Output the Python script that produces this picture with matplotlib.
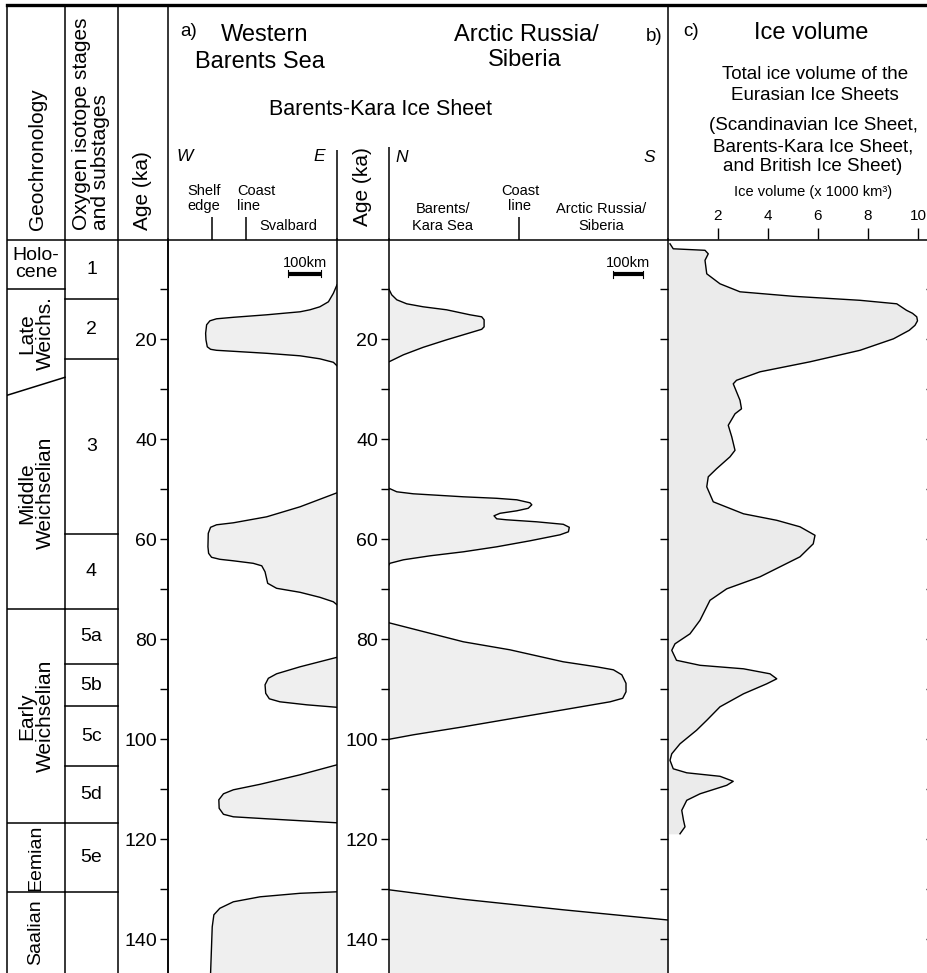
import numpy as np
import matplotlib.pyplot as plt
from matplotlib.ticker import FixedLocator, FixedFormatter

plt.rcParams['font.family'] = ['Liberation Sans', 'DejaVu Sans']

W, H = 928, 973
AGE0_PX = 239.3        # pixel row of 0 ka
PX_PER_KA = 5.0
AGE_MAX = (H - AGE0_PX) / PX_PER_KA

# ---- stratigraphy (ka) ----
geo_names = ['Holo-\ncene', 'Late\nWeichs.', 'Middle\nWeichselian',
             'Early\nWeichselian', 'Eemian', 'Saalian']
geo_base_left = [10, 31.2, 74, 116.8, 130.6]    # boundaries at left edge of column
geo_base_right = [10, 27.6, 74, 116.8, 130.6]   # boundaries at right edge of column
mis_names = ['1', '2', '3', '4', '5a', '5b', '5c', '5d', '5e', '']
mis_bounds = [0, 12, 24, 59, 74, 85, 93.4, 105.4, 116.8, 130.6]

# ---- a) Western Barents Sea: ice margin, km west of the eastern edge ----
a_age = [
    [9.1, 10.8, 12.5, 13.5, 14.1, 14.5, 14.8, 15.1, 15.6, 15.9, 16.3, 17.1, 18.8, 20.1,
     21.5, 22.0, 22.2, 22.4, 22.8, 23.3, 23.9, 24.6, 25.3],
    [50.7, 53.5, 55.5, 56.7, 57.1, 57.6, 58.8, 61.5, 62.8, 63.6, 64.0, 64.3, 64.8, 65.3,
     66.5, 68.8, 69.8, 70.6, 71.6, 72.5, 73.1],
    [83.6, 85.5, 86.9, 87.8, 89.1, 90.8, 91.9, 92.5, 93.1, 93.6],
    [105.1, 107.1, 109.0, 110.1, 110.9, 112.1, 113.8, 115.0, 115.5, 115.9, 116.7],
    [130.5, 130.8, 131.5, 132.5, 133.8, 135.1, 137.5, 146.8],
]
a_km = [
    [0, 11, 26, 52, 82, 112, 163, 213, 314, 365, 385, 395, 398, 397, 393, 383, 365, 314,
     213, 112, 52, 11, 0],
    [0, 112, 213, 314, 365, 383, 390, 391, 389, 380, 355, 314, 254, 228, 218, 210, 183,
     112, 52, 11, 0],
    [0, 112, 183, 208, 218, 216, 205, 173, 92, 0],
    [0, 112, 233, 314, 344, 358, 357, 344, 314, 213, 0],
    [0, 112, 233, 314, 355, 373, 378, 383],
]

# ---- b) Arctic Russia/Siberia: ice margin, km south of the northern edge ----
b_age = [
    [10.0, 11.1, 12.1, 12.9, 13.5, 14.1, 15.1, 15.5, 16.1, 17.5, 18.0, 18.7, 20.1, 21.6,
     23.1, 24.5],
    [49.8, 50.5, 50.9, 51.5, 51.8, 52.1, 52.7, 53.1, 53.8, 54.3, 54.8, 55.3, 55.9, 56.1,
     56.5, 57.0, 57.6, 58.5, 59.1, 60.3, 61.5, 62.5, 63.3, 64.1, 64.8, 65.1],
    [76.7, 78.8, 80.5, 82.1, 84.5, 85.5, 86.1, 87.1, 88.8, 90.5, 91.8, 92.5, 94.1, 95.8,
     97.5, 99.1, 100.0],
    [130.1, 132.0, 134.1, 136.2, 146.8],
]
b_km = [
    [0, 9, 26, 59, 114, 192, 270, 309, 317, 317, 309, 270, 192, 114, 48, 0],
    [0, 26, 81, 248, 359, 426, 470, 476, 464, 426, 370, 350, 359, 392, 492, 581, 601, 598,
     570, 470, 359, 248, 137, 48, 3, 0],
    [0, 137, 248, 403, 581, 692, 748, 776, 790, 790, 779, 737, 581, 414, 248, 81, 0],
    [0, 248, 581, 940, 940],
]

# ---- c) total Eurasian ice volume (x1000 km3) ----
c_age = [0.9, 1.9, 2.2, 2.9, 4.2, 6.9, 8.9, 10.5, 11.4, 12.2, 12.9, 14.2, 14.8, 15.5,
         16.3, 17.2, 18.2, 19.9, 22.2, 24.5, 26.5, 28.2, 28.9, 32.2, 33.9, 34.9, 37.2,
         39.5, 42.2, 43.5, 45.9, 47.5, 49.5, 52.5, 54.9, 56.2, 57.5, 59.2, 60.9, 63.5,
         67.5, 69.9, 72.2, 76.2, 78.9, 80.9, 82.2, 84.2, 85.2, 85.9, 86.9, 87.9, 88.9,
         90.9, 93.5, 96.2, 98.2, 100.9, 102.9, 104.2, 105.9, 106.7, 107.4, 108.4, 109.2,
         110.9, 112.2, 114.2, 116.2, 117.5, 118.9]
c_vol = [0.08, 0.21, 1.48, 1.61, 1.48, 1.55, 2.08, 2.88, 5.01, 7.68, 9.15, 9.54, 9.78,
         9.95, 9.98, 9.88, 9.65, 9.02, 7.68, 5.68, 3.68, 2.74, 2.61, 2.88, 2.94, 2.68,
         2.41, 2.55, 2.68, 2.48, 1.94, 1.61, 1.55, 1.81, 3.02, 4.35, 5.28, 5.88, 5.81,
         5.28, 3.68, 2.35, 1.68, 1.28, 0.88, 0.28, 0.15, 0.34, 1.28, 3.02, 4.08, 4.35,
         3.95, 3.02, 2.08, 1.55, 1.14, 0.48, 0.15, 0.08, 0.21, 0.75, 2.08, 2.61, 2.35,
         1.28, 0.75, 0.55, 0.62, 0.68, 0.48]
c_ticks = [2, 4, 6, 8, 10]

age_ticks = list(range(10, 150, 10))
age_labels = [str(t) if t % 20 == 0 else '' for t in age_ticks]

FILL = '#efefef'
LW = 1.0


def rect(x0, x1, y0, y1):
    return [x0 / W, 1 - y1 / H, (x1 - x0) / W, (y1 - y0) / H]


fig = plt.figure(figsize=(W / 100, H / 100), dpi=100)

# overlay in pixel coordinates for header text and frame lines
ov = fig.add_axes([0, 0, 1, 1], zorder=0)
ov.set_xlim(0, W)
ov.set_ylim(H, 0)
ov.axis('off')

k = dict(color='black', lw=1.1, solid_capstyle='butt')
ov.plot([7, W], [5, 5], color='black', lw=2.4)
ov.plot([7, W], [240, 240], **k)
for x in [7, 65, 118, 168]:
    ov.plot([x, x], [5, H], **k)
ov.plot([337, 337], [150, 240], **k)
ov.plot([389, 389], [147, 240], **k)
ov.plot([668, 668], [5, 240], **k)
for x in [212, 246, 519]:
    ov.plot([x, x], [217, 240], **k)

T = dict(color='black', va='baseline')
ov.text(38, 230, 'Geochronology', rotation=90, ha='center', va='bottom', fontsize=15)
ov.text(91, 230, 'Oxygen isotope stages\nand substages', rotation=90, ha='center',
        va='bottom', fontsize=15, multialignment='left', linespacing=1.0)
ov.text(143, 230, 'Age (ka)', rotation=90, ha='center', va='bottom', fontsize=15)
ov.text(363, 226, 'Age (ka)', rotation=90, ha='center', va='bottom', fontsize=15)

ov.text(180, 36, 'a)', ha='left', fontsize=13.5, **T)
ov.text(265, 41, 'Western', ha='center', fontsize=17, **T)
ov.text(260, 68, 'Barents Sea', ha='center', fontsize=17, **T)
ov.text(381, 115, 'Barents-Kara Ice Sheet', ha='center', fontsize=15.5, **T)
ov.text(526, 41, 'Arctic Russia/', ha='center', fontsize=17, **T)
ov.text(525, 66, 'Siberia', ha='center', fontsize=17, **T)
ov.text(662, 41, 'b)', ha='right', fontsize=13.5, **T)

ov.text(177, 161, 'W', ha='left', fontsize=12.5, style='italic', **T)
ov.text(325, 161, 'E', ha='right', fontsize=12.5, style='italic', **T)
ov.text(187, 195, 'Shelf', ha='left', fontsize=10.5, **T)
ov.text(187, 210, 'edge', ha='left', fontsize=10.5, **T)
ov.text(237, 195, 'Coast', ha='left', fontsize=10.5, **T)
ov.text(237, 210, 'line', ha='left', fontsize=10.5, **T)
ov.text(259, 230, 'Svalbard', ha='left', fontsize=10.5, **T)

ov.text(395, 162, 'N', ha='left', fontsize=12.5, style='italic', **T)
ov.text(655, 162, 'S', ha='right', fontsize=12.5, style='italic', **T)
ov.text(443, 213, 'Barents/', ha='center', fontsize=10.5, **T)
ov.text(443, 230, 'Kara Sea', ha='center', fontsize=10.5, **T)
ov.text(520, 195, 'Coast', ha='center', fontsize=10.5, **T)
ov.text(520, 210, 'line', ha='center', fontsize=10.5, **T)
ov.text(601, 213, 'Arctic Russia/', ha='center', fontsize=10.5, **T)
ov.text(601, 230, 'Siberia', ha='center', fontsize=10.5, **T)

ov.text(683, 36, 'c)', ha='left', fontsize=13.5, **T)
ov.text(811, 39, 'Ice volume', ha='center', fontsize=17, **T)
ov.text(815, 79, 'Total ice volume of the', ha='center', fontsize=13.5, **T)
ov.text(815, 100, 'Eurasian Ice Sheets', ha='center', fontsize=13.5, **T)
ov.text(813, 130, '(Scandinavian Ice Sheet,', ha='center', fontsize=13.5, **T)
ov.text(813, 151, 'Barents-Kara Ice Sheet,', ha='center', fontsize=13.5, **T)
ov.text(813, 171, 'and British Ice Sheet)', ha='center', fontsize=13.5, **T)
ov.text(813, 196, 'Ice volume (x 1000 km³)', ha='center', fontsize=10.5, **T)

# ---- stratigraphic columns ----
ax_s = fig.add_axes(rect(7, 168, AGE0_PX, H), zorder=1)
ax_s.set_xlim(7, 168)
ax_s.set_ylim(AGE_MAX, 0)
ax_s.axis('off')
ax_s.patch.set_visible(False)
for yl, yr in zip(geo_base_left, geo_base_right):
    ax_s.plot([7, 65], [yl, yr], color='black', lw=1.1)
for b in mis_bounds[1:]:
    ax_s.plot([65, 118], [b, b], color='black', lw=1.1)
g_tops = [0] + geo_base_right
g_bots = geo_base_right + [AGE_MAX]
for i, name in enumerate(geo_names):
    mid = (g_tops[i] + g_bots[i]) / 2
    rot = 0 if i == 0 else 90
    ax_s.text(36, mid, name, ha='center', va='center', rotation=rot,
              fontsize=14 if i in (0, 4, 5) else 15, linespacing=1.0)
m_bots = mis_bounds[1:] + [AGE_MAX]
for i, name in enumerate(mis_names):
    ax_s.text(91.5, (mis_bounds[i] + m_bots[i]) / 2, name, ha='center', va='center',
              fontsize=14)


def style_age_axis(ax, labels=True):
    ax.set_ylim(AGE_MAX, 0)
    ax.yaxis.set_major_locator(FixedLocator(age_ticks))
    if labels:
        ax.yaxis.set_major_formatter(FixedFormatter(age_labels))
    else:
        ax.set_yticklabels([])
    ax.tick_params(axis='y', direction='out', length=6, width=1.0, pad=2, labelsize=14)
    ax.set_xticks([])
    ax.patch.set_visible(False)
    for s in ax.spines.values():
        s.set_linewidth(1.1)
    ax.spines['top'].set_visible(False)
    ax.spines['bottom'].set_visible(False)


# ---- a) ----
ax_a = fig.add_axes(rect(168, 337, AGE0_PX, H), zorder=2)
style_age_axis(ax_a)
ax_a.set_xlim(512, 0)
for ages, km in zip(a_age, a_km):
    ax_a.fill_betweenx(ages, km, 0, color=FILL, lw=0)
    ax_a.plot(km, ages, color='black', lw=LW)
ax_a.plot([148, 48], [6.9, 6.9], color='black', lw=3, solid_capstyle='butt')
ax_a.plot([148, 148], [6.2, 7.6], color='black', lw=0.8)
ax_a.plot([48, 48], [6.2, 7.6], color='black', lw=0.8)
ax_a.text(98, 5.6, '100km', ha='center', va='baseline', fontsize=10.5)

# ---- b) ----
ax_b = fig.add_axes(rect(389, 668, AGE0_PX, H), zorder=2)
style_age_axis(ax_b)
ax_b.spines['right'].set_visible(False)
ax_b.set_xlim(0, 930)
for ages, km in zip(b_age, b_km):
    ax_b.fill_betweenx(ages, 0, km, color=FILL, lw=0)
    ax_b.plot(km, ages, color='black', lw=LW)
ax_b.plot([747, 847], [7.0, 7.0], color='black', lw=3, solid_capstyle='butt')
ax_b.plot([747, 747], [6.3, 7.7], color='black', lw=0.8)
ax_b.plot([847, 847], [6.3, 7.7], color='black', lw=0.8)
ax_b.text(797, 5.6, '100km', ha='center', va='baseline', fontsize=10.5)

# ---- c) ----
ax_c = fig.add_axes(rect(668, 926, AGE0_PX, H), zorder=2)
style_age_axis(ax_c, labels=False)
ax_c.spines['right'].set_visible(False)
ax_c.set_xlim(0, 258 / 25)
ax_c.xaxis.tick_top()
ax_c.set_xticks(c_ticks)
ax_c.tick_params(axis='x', direction='out', length=8, width=1.0, pad=4, labelsize=11)
ax_c.fill_betweenx(c_age, 0, c_vol, color='#ebebeb', lw=0)
ax_c.plot(c_vol, c_age, color='black', lw=LW)
ax_c.yaxis.set_tick_params(which='major', right=True, labelright=False)
for t in ax_c.yaxis.get_major_ticks():
    t.tick2line.set_markersize(2)
    t.tick2line.set_color('#555555')

fig.savefig('out.png', dpi=100)
